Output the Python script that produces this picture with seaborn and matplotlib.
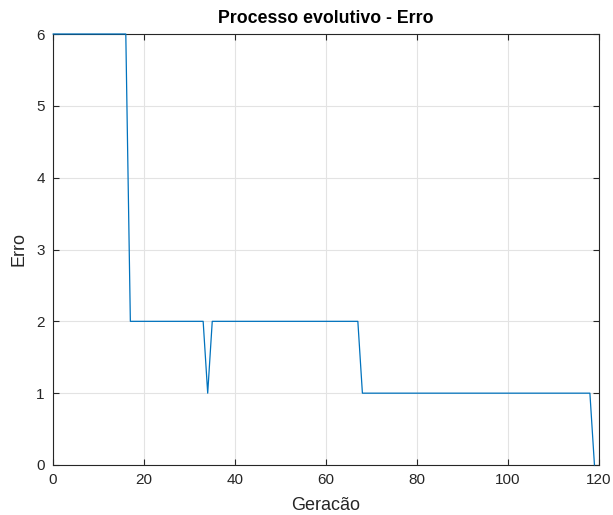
import numpy as np
import pandas as pd
import seaborn as sns
import matplotlib
matplotlib.use("Agg")
import matplotlib.pyplot as plt

# erro por geracao (geracoes 0..119)
geracao = list(range(120))
erro = [
    6, 6, 6, 6, 6, 6, 6, 6, 6, 6, 6, 6, 6, 6, 6, 6, 6,
    2, 2, 2, 2, 2, 2, 2, 2, 2, 2, 2, 2, 2, 2, 2, 2, 2,
    1,
    2, 2, 2, 2, 2, 2, 2, 2, 2, 2, 2, 2, 2, 2, 2, 2, 2,
    2, 2, 2, 2, 2, 2, 2, 2, 2, 2, 2, 2, 2, 2, 2, 2,
    1, 1, 1, 1, 1, 1, 1, 1, 1, 1, 1, 1, 1, 1, 1, 1, 1,
    1, 1, 1, 1, 1, 1, 1, 1, 1, 1, 1, 1, 1, 1, 1, 1, 1,
    1, 1, 1, 1, 1, 1, 1, 1, 1, 1, 1, 1, 1, 1, 1, 1, 1,
    0,
]
xticks = [0, 20, 40, 60, 80, 100, 120]
yticks = [0, 1, 2, 3, 4, 5, 6]

df = pd.DataFrame({"Geracao": geracao, "Erro": erro})

sns.set_theme(style="white")
plt.rcParams["font.family"] = ["Liberation Sans", "DejaVu Sans"]

fig = plt.figure(figsize=(6.13, 5.15), dpi=100)
ax = fig.add_axes([53 / 613, 50 / 515, 546 / 613, 431 / 515])

sns.lineplot(data=df, x="Geracao", y="Erro", ax=ax, color="#0072BD",
             linewidth=0.9, clip_on=False, zorder=3)

ax.set_xlim(0, 120)
ax.set_ylim(0, 6)
ax.set_xticks(xticks)
ax.set_yticks(yticks)
ax.grid(True, color="#e3e3e3", linewidth=0.8)
ax.tick_params(direction="in", length=4, width=0.8, colors="#262626",
               labelsize=11, top=True, right=True, bottom=True, left=True, pad=6)
for s in ax.spines.values():
    s.set_color("#262626")
    s.set_linewidth(0.8)

ax.set_title("Processo evolutivo - Erro", fontsize=12.8, fontweight="bold",
             color="black", pad=8)
ax.set_xlabel("Geracão", fontsize=13, color="#262626", labelpad=7)
ax.set_ylabel("Erro", fontsize=13, color="#262626", labelpad=6)

fig.savefig("out.png", dpi=100)
